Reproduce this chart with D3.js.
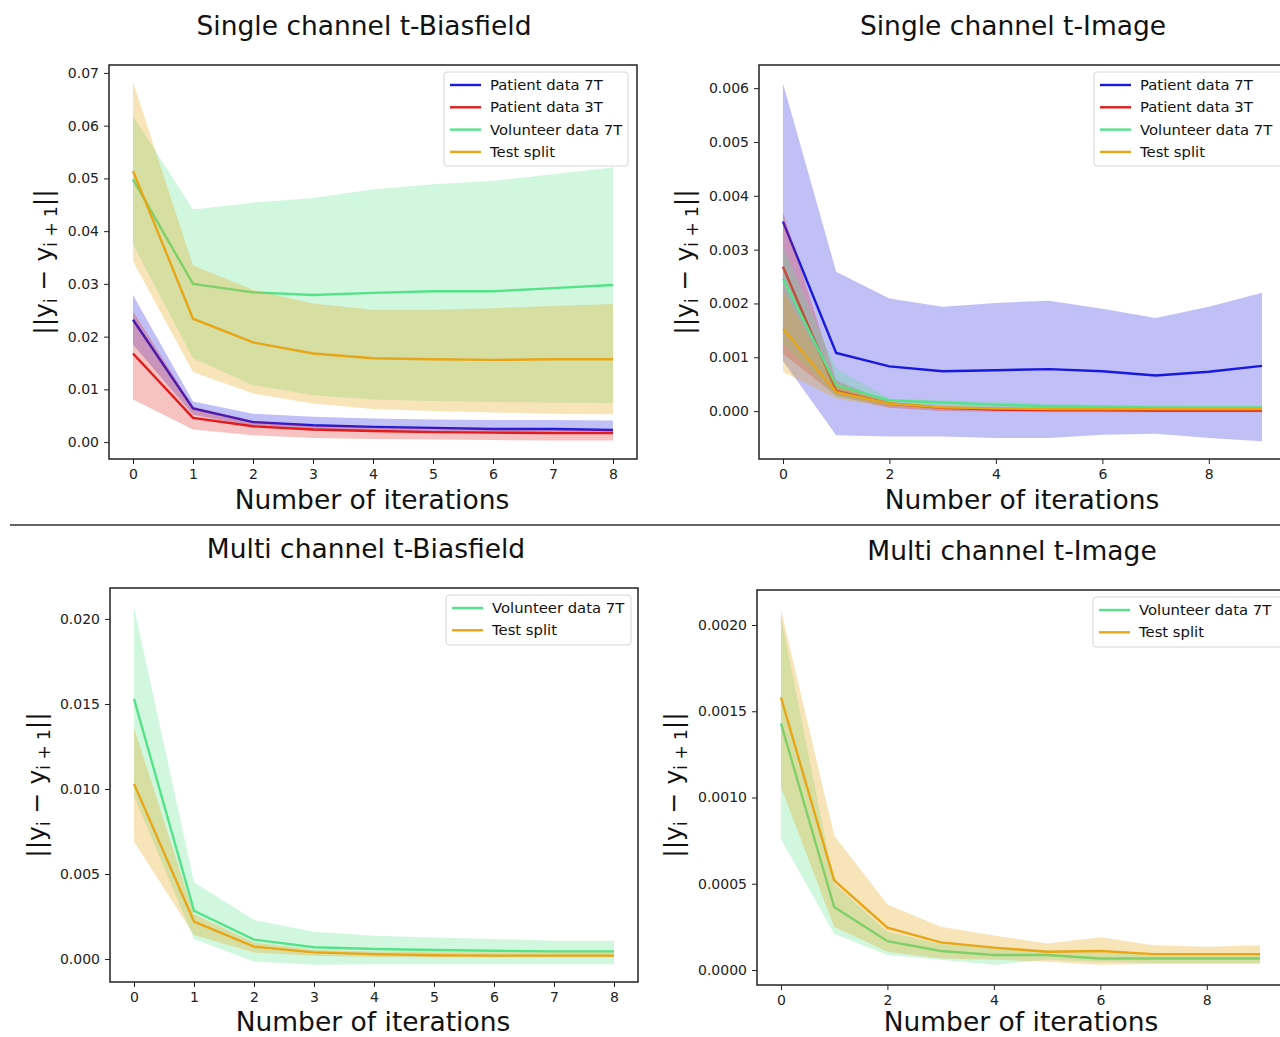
<!DOCTYPE html>
<html lang="en">
<head>
<meta charset="utf-8">
<title>Iteration convergence</title>
<script src="https://cdn.jsdelivr.net/npm/d3@7"></script>
<style>
  body { margin: 0; background: #fff; }
  svg { font-family: "DejaVu Sans", sans-serif; }
</style>
</head>
<body>
<script>

//
// Data
//
var legendNames = ["Patient data 7T", "Patient data 3T", "Volunteer data 7T", "Test split"];
var seriesColors = ["#1818e0", "#e21c1c", "#55e38a", "#e6a617"];

var iters9 = [0, 1, 2, 3, 4, 5, 6, 7, 8];
var iters10 = [0, 1, 2, 3, 4, 5, 6, 7, 8, 9];

// Single channel t-Biasfield
var sbPatient7T    = [0.0232, 0.0064, 0.0038, 0.0032, 0.0029, 0.0027, 0.0025, 0.0025, 0.0023];
var sbPatient7TLo  = [0.0185, 0.0052, 0.0030, 0.0024, 0.0021, 0.0019, 0.0018, 0.0017, 0.0016];
var sbPatient7THi  = [0.0279, 0.0077, 0.0054, 0.0048, 0.0045, 0.0043, 0.0042, 0.0042, 0.0041];
var sbPatient3T    = [0.0168, 0.0046, 0.0030, 0.0024, 0.0021, 0.0019, 0.0018, 0.0017, 0.0017];
var sbPatient3TLo  = [0.0081, 0.0024, 0.0013, 0.0008, 0.0006, 0.0005, 0.0004, 0.0003, 0.0003];
var sbPatient3THi  = [0.0248, 0.0067, 0.0040, 0.0032, 0.0029, 0.0027, 0.0026, 0.0025, 0.0025];
var sbVolunteer    = [0.0498, 0.0300, 0.0284, 0.0279, 0.0283, 0.0286, 0.0286, 0.0292, 0.0298];
var sbVolunteerLo  = [0.0375, 0.0159, 0.0108, 0.0089, 0.0081, 0.0078, 0.0076, 0.0075, 0.0074];
var sbVolunteerHi  = [0.0618, 0.0441, 0.0454, 0.0463, 0.0479, 0.0489, 0.0495, 0.0508, 0.0521];
var sbTest         = [0.0514, 0.0234, 0.0189, 0.0168, 0.0159, 0.0157, 0.0156, 0.0157, 0.0157];
var sbTestLo       = [0.0343, 0.0133, 0.0092, 0.0073, 0.0063, 0.0059, 0.0056, 0.0054, 0.0053];
var sbTestHi       = [0.0683, 0.0335, 0.0289, 0.0263, 0.0251, 0.0251, 0.0254, 0.0258, 0.0262];

// Single channel t-Image
var siPatient7T    = [0.00352, 0.00108, 0.00083, 0.00074, 0.00076, 0.00078, 0.00074, 0.00066, 0.00073, 0.00084];
var siPatient7TLo  = [0.00093, -0.00045, -0.00047, -0.00047, -0.00050, -0.00050, -0.00044, -0.00042, -0.00050, -0.00056];
var siPatient7THi  = [0.00609, 0.00259, 0.00209, 0.00194, 0.00201, 0.00205, 0.00190, 0.00173, 0.00194, 0.00220];
var siPatient3T    = [0.00268, 0.00038, 0.00014, 0.00006, 0.00003, 0.00002, 0.00002, 0.00001, 0.00001, 0.00001];
var siPatient3TLo  = [0.00107, 0.00029, 0.00006, 0.00000, -0.00001, -0.00002, -0.00002, -0.00002, -0.00002, -0.00002];
var siPatient3THi  = [0.00370, 0.00057, 0.00017, 0.00008, 0.00006, 0.00005, 0.00005, 0.00004, 0.00004, 0.00004];
var siVolunteer    = [0.00246, 0.00048, 0.00020, 0.00016, 0.00012, 0.00009, 0.00008, 0.00007, 0.00007, 0.00007];
var siVolunteerLo  = [0.00125, 0.00026, 0.00010, 0.00008, 0.00006, 0.00005, 0.00004, 0.00004, 0.00004, 0.00004];
var siVolunteerHi  = [0.00305, 0.00079, 0.00023, 0.00020, 0.00017, 0.00014, 0.00012, 0.00011, 0.00010, 0.00010];
var siTest         = [0.00153, 0.00035, 0.00014, 0.00007, 0.00005, 0.00004, 0.00004, 0.00004, 0.00004, 0.00004];
var siTestLo       = [0.00073, 0.00023, 0.00007, 0.00003, 0.00002, 0.00001, 0.00001, 0.00001, 0.00001, 0.00001];
var siTestHi       = [0.00225, 0.00048, 0.00017, 0.00010, 0.00008, 0.00007, 0.00007, 0.00007, 0.00007, 0.00007];

// Multi channel t-Biasfield
var mbVolunteer    = [0.0153, 0.00284, 0.00114, 0.00069, 0.00059, 0.00053, 0.00049, 0.00045, 0.00045];
var mbVolunteerLo  = [0.0096, 0.00118, -0.00014, -0.00033, -0.00031, -0.00030, -0.00030, -0.00030, -0.00030];
var mbVolunteerHi  = [0.0207, 0.00451, 0.00229, 0.00161, 0.00137, 0.00127, 0.00118, 0.00108, 0.00108];
var mbTest         = [0.0103, 0.00220, 0.00073, 0.00039, 0.00029, 0.00022, 0.00020, 0.00020, 0.00020];
var mbTestLo       = [0.0069, 0.00141, 0.00039, 0.00020, 0.00012, 0.00010, 0.00010, 0.00010, 0.00010];
var mbTestHi       = [0.0136, 0.00265, 0.00098, 0.00055, 0.00045, 0.00040, 0.00040, 0.00040, 0.00040];

// Multi channel t-Image
var miVolunteer    = [0.00143, 0.000365, 0.000167, 0.000110, 0.000087, 0.000087, 0.000067, 0.000067, 0.000067, 0.000067];
var miVolunteerLo  = [0.00076, 0.000210, 0.000087, 0.000060, 0.000030, 0.000060, 0.000048, 0.000040, 0.000040, 0.000040];
var miVolunteerHi  = [0.00205, 0.000500, 0.000220, 0.000150, 0.000130, 0.000115, 0.000100, 0.000095, 0.000095, 0.000095];
var miTest         = [0.00158, 0.000520, 0.000246, 0.000160, 0.000130, 0.000106, 0.000110, 0.000092, 0.000092, 0.000092];
var miTestLo       = [0.00106, 0.000250, 0.000106, 0.000067, 0.000060, 0.000048, 0.000030, 0.000035, 0.000035, 0.000035];
var miTestHi       = [0.00209, 0.000780, 0.000380, 0.000250, 0.000200, 0.000154, 0.000190, 0.000144, 0.000135, 0.000144];

// Tick labels
var sbYTicks = [0, 0.01, 0.02, 0.03, 0.04, 0.05, 0.06, 0.07];
var siYTicks = [0, 0.001, 0.002, 0.003, 0.004, 0.005, 0.006];
var mbYTicks = [0, 0.005, 0.010, 0.015, 0.020];
var miYTicks = [0, 0.0005, 0.0010, 0.0015, 0.0020];
var xTicksEvery = [0, 1, 2, 3, 4, 5, 6, 7, 8];
var xTicksEven = [0, 2, 4, 6, 8];


//
// Panel definitions
//
var panels = [
	{
		title: "Single channel t-Biasfield", titleX: 364, titleY: 35,
		box: [109, 65, 637, 459], xDomain: [-0.4, 8.4], yDomain: [-0.0032, 0.0715],
		xTicks: xTicksEvery, yTicks: sbYTicks, yFormat: ".2f",
		xLabelX: 372, xLabelY: 509, yLabelX: 52, yLabelY: 262,
		legend: [444, 72, 184, 4],
		series: [
			{ c: 0, x: iters9, m: sbPatient7T, lo: sbPatient7TLo, hi: sbPatient7THi },
			{ c: 1, x: iters9, m: sbPatient3T, lo: sbPatient3TLo, hi: sbPatient3THi },
			{ c: 2, x: iters9, m: sbVolunteer, lo: sbVolunteerLo, hi: sbVolunteerHi },
			{ c: 3, x: iters9, m: sbTest, lo: sbTestLo, hi: sbTestHi }
		]
	},
	{
		title: "Single channel t-Image", titleX: 1013, titleY: 35,
		box: [759, 65, 1286, 459], xDomain: [-0.45, 9.45], yDomain: [-0.00089, 0.00643],
		xTicks: xTicksEven, yTicks: siYTicks, yFormat: ".3f",
		xLabelX: 1022, xLabelY: 509, yLabelX: 693, yLabelY: 262,
		legend: [1094, 72, 190, 4],
		series: [
			{ c: 0, x: iters10, m: siPatient7T, lo: siPatient7TLo, hi: siPatient7THi },
			{ c: 1, x: iters10, m: siPatient3T, lo: siPatient3TLo, hi: siPatient3THi },
			{ c: 2, x: iters10, m: siVolunteer, lo: siVolunteerLo, hi: siVolunteerHi },
			{ c: 3, x: iters10, m: siTest, lo: siTestLo, hi: siTestHi }
		]
	},
	{
		title: "Multi channel t-Biasfield", titleX: 366, titleY: 558,
		box: [110, 588, 638, 982], xDomain: [-0.4, 8.4], yDomain: [-0.00135, 0.02182],
		xTicks: xTicksEvery, yTicks: mbYTicks, yFormat: ".3f",
		xLabelX: 373, xLabelY: 1031, yLabelX: 45, yLabelY: 785,
		legend: [446, 595, 185, 2],
		series: [
			{ c: 2, x: iters9, m: mbVolunteer, lo: mbVolunteerLo, hi: mbVolunteerHi },
			{ c: 3, x: iters9, m: mbTest, lo: mbTestLo, hi: mbTestHi }
		]
	},
	{
		title: "Multi channel t-Image", titleX: 1012, titleY: 560,
		box: [757, 590, 1284, 985], xDomain: [-0.45, 9.45], yDomain: [-0.000087, 0.002203],
		xTicks: xTicksEven, yTicks: miYTicks, yFormat: ".4f",
		xLabelX: 1021, xLabelY: 1031, yLabelX: 682, yLabelY: 785,
		legend: [1093, 597, 190, 2],
		series: [
			{ c: 2, x: iters10, m: miVolunteer, lo: miVolunteerLo, hi: miVolunteerHi },
			{ c: 3, x: iters10, m: miTest, lo: miTestLo, hi: miTestHi }
		]
	}
];


//
// Drawing
//
var svg = d3.select("body")
	.append("svg")
	.attr("width", 1280)
	.attr("height", 1037);

// separator between the two rows
svg.append("line")
	.attr("x1", 10).attr("x2", 1280)
	.attr("y1", 525).attr("y2", 525)
	.attr("stroke", "#333")
	.attr("stroke-width", 1.5);

var drawPanel = function(p, idx) {

	var x = d3.scaleLinear().domain(p.xDomain).range([p.box[0], p.box[2]]);
	var y = d3.scaleLinear().domain(p.yDomain).range([p.box[3], p.box[1]]);

	var g = svg.append("g");

	g.append("clipPath").attr("id", "clip" + idx)
		.append("rect")
		.attr("x", p.box[0]).attr("y", p.box[1])
		.attr("width", p.box[2] - p.box[0]).attr("height", p.box[3] - p.box[1]);

	var plot = g.append("g").attr("clip-path", "url(#clip" + idx + ")");

	// bands first, then lines
	p.series.forEach(function(s) {
		var pts = s.x.map(function(v, i) { return { x: v, m: s.m[i], lo: s.lo[i], hi: s.hi[i] }; });

		plot.append("path")
			.datum(pts)
			.attr("fill", seriesColors[s.c])
			.attr("fill-opacity", s.c === 3 ? 0.3 : 0.27)
			.attr("stroke", "none")
			.attr("d", d3.area()
				.x(function(d) { return x(d.x); })
				.y0(function(d) { return y(d.lo); })
				.y1(function(d) { return y(d.hi); }));

		plot.append("path")
			.datum(pts)
			.attr("fill", "none")
			.attr("stroke", seriesColors[s.c])
			.attr("stroke-width", 2.4)
			.attr("d", d3.line()
				.x(function(d) { return x(d.x); })
				.y(function(d) { return y(d.m); }));
	});

	// axes
	var xAxis = g.append("g")
		.attr("transform", "translate(0," + p.box[3] + ")")
		.call(d3.axisBottom(x).tickValues(p.xTicks).tickFormat(d3.format("d")).tickSize(5).tickPadding(5).tickSizeOuter(0));
	var yAxis = g.append("g")
		.attr("transform", "translate(" + p.box[0] + ",0)")
		.call(d3.axisLeft(y).tickValues(p.yTicks).tickFormat(d3.format(p.yFormat)).tickSize(5).tickPadding(5).tickSizeOuter(0));

	[xAxis, yAxis].forEach(function(a) {
		a.select(".domain").remove();
		a.selectAll("line").attr("stroke", "#222").attr("stroke-width", 1);
		a.selectAll("text").attr("font-size", 14).attr("fill", "#222")
			.attr("font-family", "DejaVu Sans, sans-serif");
	});

	// frame
	g.append("rect")
		.attr("x", p.box[0]).attr("y", p.box[1])
		.attr("width", p.box[2] - p.box[0]).attr("height", p.box[3] - p.box[1])
		.attr("fill", "none")
		.attr("stroke", "#222")
		.attr("stroke-width", 1.5);

	// title + axis labels
	g.append("text")
		.attr("x", p.titleX).attr("y", p.titleY)
		.attr("text-anchor", "middle")
		.attr("font-size", 26.5)
		.attr("fill", "#111")
		.text(p.title);

	g.append("text")
		.attr("x", p.xLabelX).attr("y", p.xLabelY)
		.attr("text-anchor", "middle")
		.attr("font-size", 26.5)
		.attr("fill", "#111")
		.text("Number of iterations");

	var yl = g.append("text")
		.attr("transform", "translate(" + p.yLabelX + "," + p.yLabelY + ") rotate(-90)")
		.attr("text-anchor", "middle")
		.attr("font-size", 25)
		.attr("fill", "#111");
	yl.append("tspan").text("||y");
	yl.append("tspan").attr("font-size", 17).attr("dy", 5).text("i");
	yl.append("tspan").attr("dy", -5).text(" \u2212 y");
	yl.append("tspan").attr("font-size", 17).attr("dy", 5).text("i + 1");
	yl.append("tspan").attr("dy", -5).text("||");

	// legend
	var lg = p.legend;
	var names = p.series.map(function(s) { return s.c; });
	var lgH = 22 * lg[3] + 6;
	g.append("rect")
		.attr("x", lg[0]).attr("y", lg[1])
		.attr("width", lg[2]).attr("height", lgH)
		.attr("rx", 3)
		.attr("fill", "#fff")
		.attr("fill-opacity", 0.85)
		.attr("stroke", "#d6d6d6")
		.attr("stroke-width", 1);

	var items = g.selectAll(".leg" + idx)
		.data(names)
		.enter()
		.append("g")
		.attr("transform", function(d, i) {
			return "translate(" + (lg[0] + 6) + "," + (lg[1] + 13 + i * 22.3) + ")";
		});
	items.append("line")
		.attr("x1", 0).attr("x2", 31)
		.attr("stroke", function(d) { return seriesColors[d]; })
		.attr("stroke-width", 2.4);
	items.append("text")
		.attr("x", 40).attr("y", 5)
		.attr("font-size", 14.8)
		.attr("fill", "#111")
		.text(function(d) { return legendNames[d]; });
};

panels.forEach(drawPanel);

</script>
</body>
</html>
